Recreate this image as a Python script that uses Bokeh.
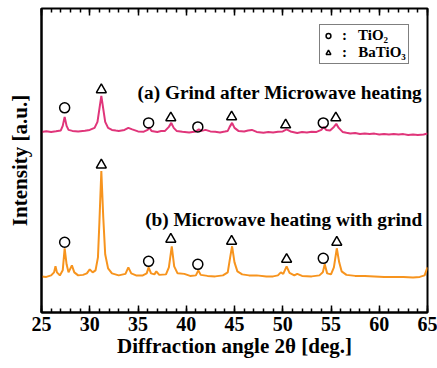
from bokeh.plotting import figure
from bokeh.models import (Range1d, LinearAxis, SingleIntervalTicker, FixedTicker, Label,
                          Legend, LegendItem, CustomJSTickFormatter)
from bokeh.embed import file_html
from bokeh.resources import INLINE

# ---- data (intensity in arbitrary units) ----
angle_a = [25.0, 25.5, 26.0, 26.5, 27.0, 27.2, 27.4, 27.6, 27.8, 28.2, 28.8, 29.5, 30.0, 30.5,
           30.8, 31.0, 31.2, 31.4, 31.6, 31.9, 32.3, 32.7, 33.0, 33.6, 34.0, 34.4, 35.0, 35.6,
           36.0, 36.15, 36.4, 37.0, 37.4, 37.8, 38.2, 38.45, 38.7, 39.0, 39.6, 40.3, 41.0,
           41.3, 41.6, 42.0, 42.5, 43.0, 43.5, 44.0, 44.3, 44.5, 44.75, 45.0, 45.4, 46.0,
           46.4, 46.8, 47.3, 48.0, 48.5, 49.0, 49.5, 50.0, 50.4, 50.8, 51.5, 52.0, 52.5, 53.0,
           53.5, 54.0, 54.25, 54.5, 54.9, 55.3, 55.55, 55.8, 56.2, 56.6, 57.0, 57.5, 58.0,
           58.5, 59.0, 59.5, 60.0, 60.5, 61.0, 61.5, 62.0, 62.5, 63.0, 63.5, 64.0, 64.6, 65.0]
intensity_a = [180, 180.6, 179.8, 180.6, 181.5, 186, 195, 186, 182, 181, 180.4, 181.2, 182, 184,
               190, 203, 216, 203, 190, 184, 182, 181.4, 181, 182, 184, 182.5, 180.5, 180.2,
               182, 184.5, 181, 180, 180.8, 181, 185, 189, 184, 181, 180.2, 179.5, 180.5,
               182.5, 181, 182, 180.5, 180.2, 179.5, 180.4, 181, 185, 189, 184, 181, 180.5,
               181.4, 182, 180, 179.2, 179.8, 179.5, 180.2, 180.5, 182.5, 180.5, 179, 179.8,
               179.5, 180.2, 180, 182, 185, 182, 181.5, 185, 188, 184, 180, 179.2, 178.5,
               178.9, 178, 178.4, 178, 178.3, 177.5, 178, 177.5, 177.9, 177.5, 177.8, 177,
               177.4, 177, 177.5, 178.5]

angle_b = [25.0, 25.5, 26.0, 26.3, 26.45, 26.6, 26.9, 27.2, 27.4, 27.6, 27.8, 28.0, 28.15,
           28.4, 28.8, 29.3, 29.7, 30.0, 30.3, 30.6, 30.85, 31.0, 31.2, 31.4, 31.6, 31.9, 32.3,
           33.0, 33.7, 34.0, 34.3, 34.8, 35.5, 35.9, 36.1, 36.35, 36.7, 36.9, 37.2, 37.9,
           38.2, 38.5, 38.75, 39.1, 39.8, 40.4, 41.0, 41.25, 41.5, 42.2, 43.0, 43.8, 44.3,
           44.55, 44.75, 45.0, 45.3, 45.8, 46.5, 47.3, 48.3, 49.0, 49.5, 49.8, 50.05, 50.4,
           50.7, 51.2, 51.5, 52.0, 53.0, 53.8, 54.15, 54.35, 54.6, 55.0, 55.3, 55.6, 55.85,
           56.1, 56.6, 57.5, 58.5, 59.5, 60.5, 61.5, 62.5, 63.5, 64.2, 64.7, 65.0]
intensity_b = [36, 35.5, 37, 40, 46, 40, 37, 42, 64, 48, 40, 44, 47,
               40, 37, 37.5, 39, 43, 40, 42, 55, 90, 141, 95, 58, 44, 39,
               37, 38.5, 45, 39, 37, 37, 39, 45, 39, 38, 41, 37.5, 38,
               45, 66, 46, 39, 38.5, 36.5, 37, 42, 37.5, 36.5, 36, 37, 40,
               55, 66, 50, 41, 38, 37, 37, 36, 36, 37, 40, 38.5, 46,
               39.5, 37, 38.5, 36.5, 36, 37, 40, 48, 39, 38, 45, 64, 50,
               41, 37.5, 36.5, 36.5, 36, 35.5, 35.5, 35.5, 35, 35.5, 37, 45]

# phase markers
tio2_a_x = [27.4, 36.1, 41.2, 54.2]
tio2_a_y = [204, 189, 185, 189]
batio3_a_x = [31.2, 38.4, 44.7, 50.3, 55.5]
batio3_a_y = [222, 194, 195, 187, 194]
tio2_b_x = [27.4, 36.1, 41.2, 54.2]
tio2_b_y = [70, 51, 48, 54]
batio3_b_x = [31.2, 38.4, 44.7, 50.4, 55.6]
batio3_b_y = [147, 73, 71, 53, 70]

legend_labels = [":   TiO₂", ":   BaTiO₃"]

PINK = "#e0357a"
ORANGE = "#f7941e"
FONT = "Liberation Serif"

p = figure(width=437, height=368, output_backend="svg", toolbar_location=None,
           x_range=Range1d(25, 65), y_range=Range1d(0, 303),
           min_border_left=41, min_border_right=10, min_border_top=8, min_border_bottom=56)
p.grid.visible = False
p.outline_line_color = "black"
p.outline_line_width = 2
p.background_fill_color = "white"
p.border_fill_color = "white"

p.line(angle_a, intensity_a, line_color=PINK, line_width=2)
p.line(angle_b, intensity_b, line_color=ORANGE, line_width=2)

mk = dict(fill_color=None, line_color="black", line_width=1.5)
c1 = p.scatter(tio2_a_x, tio2_a_y, marker="circle", size=10, **mk)
t1 = p.scatter(batio3_a_x, batio3_a_y, marker="triangle", size=10, **mk)
p.scatter(tio2_b_x, tio2_b_y, marker="circle", size=10, **mk)
p.scatter(batio3_b_x, batio3_b_y, marker="triangle", size=10, **mk)

# axes
ticker = SingleIntervalTicker(interval=5, num_minor_ticks=5)
xa = p.xaxis[0]
xa.ticker = ticker
xa.major_tick_in = 7
xa.major_tick_out = 0
xa.minor_tick_in = 4
xa.minor_tick_out = 0
xa.axis_line_width = 2
xa.major_tick_line_width = 1.5
xa.minor_tick_line_width = 1.5
xa.major_label_text_font = FONT
xa.major_label_text_font_style = "bold"
xa.major_label_text_font_size = "20px"
xa.major_label_text_color = "black"
xa.major_label_standoff = 4
xa.axis_label = "Diffraction angle 2θ [deg.]"
xa.axis_label_text_font = FONT
xa.axis_label_text_font_style = "bold"
xa.axis_label_text_font_size = "21px"
xa.axis_label_text_color = "black"
xa.axis_label_standoff = 0

top = LinearAxis(ticker=ticker, major_tick_in=7, major_tick_out=0, minor_tick_in=4,
                 minor_tick_out=0, axis_line_color=None, major_tick_line_width=1.5,
                 minor_tick_line_width=1.5, major_label_text_font_size="1px",
                 formatter=CustomJSTickFormatter(code="return ''"),
                 major_label_standoff=0)
p.add_layout(top, "above")

ya = p.yaxis[0]
ya.ticker = FixedTicker(ticks=[])
ya.major_tick_line_color = None
ya.minor_tick_line_color = None
ya.major_label_standoff = 0
ya.axis_line_width = 2
ya.axis_label = "Intensity [a.u.]"
ya.axis_label_text_font = FONT
ya.axis_label_text_font_style = "bold"
ya.axis_label_text_font_size = "21px"
ya.axis_label_text_color = "black"
ya.axis_label_standoff = 10

lab = dict(text_font=FONT, text_font_style="bold", text_font_size="19.3px",
           text_color="black", text_align="center", text_baseline="middle")
p.add_layout(Label(x=49.7, y=219, text="(a) Grind after Microwave heating", **lab))
p.add_layout(Label(x=50.1, y=93, text="(b) Microwave heating with grind", **lab))

legend = Legend(items=[LegendItem(label=legend_labels[0], renderers=[c1]),
                       LegendItem(label=legend_labels[1], renderers=[t1])],
                location=(278, 248), border_line_color="black", border_line_width=1.5,
                label_text_font=FONT, label_text_font_style="bold",
                label_text_color="black",
                label_text_font_size="15px", padding=2, spacing=0, margin=0,
                glyph_width=12, glyph_height=15, label_standoff=8, label_height=15,
                background_fill_alpha=1)
p.add_layout(legend)

open("out.html", "w").write(file_html(p, INLINE))
